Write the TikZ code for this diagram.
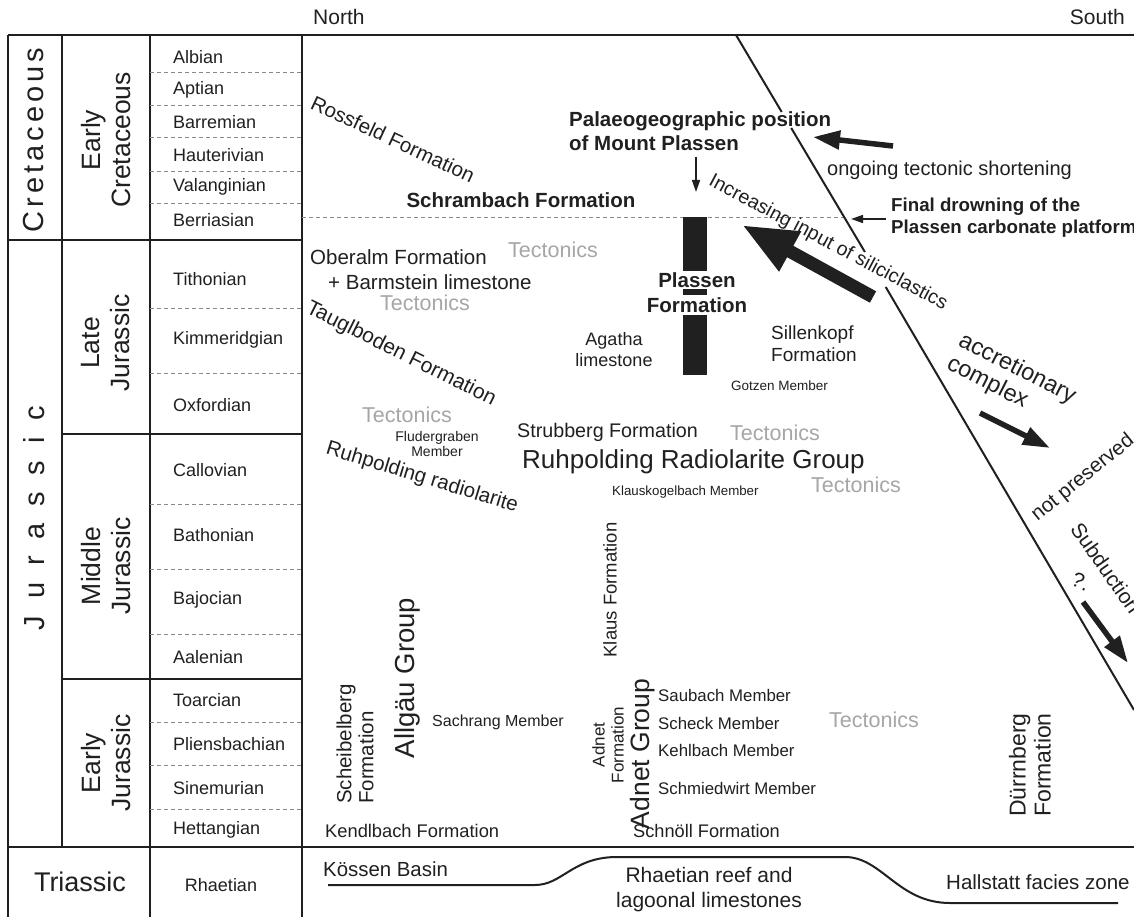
\documentclass[tikz,border=0pt]{standalone}
\usepackage{fontspec}
\setmainfont{Liberation Sans}
\usetikzlibrary{arrows.meta}
\definecolor{ink}{HTML}{202020}
\definecolor{tect}{HTML}{A6A6A6}
\definecolor{dsh}{HTML}{8A8A8A}
\newcommand\fsz[2]{\fontsize{#1}{#2}\selectfont}
\tikzset{
  lab/.style={inner sep=0pt,text=ink},
  stg/.style={lab,anchor=west,font=\fsz{18}{21}},
  tecto/.style={inner sep=0pt,text=tect,font=\fsz{21.5}{25}},
  rule/.style={draw=ink,line width=2pt},
  stagedash/.style={draw=dsh,line width=1pt,dash pattern=on 4pt off 3pt},
  thinarrow/.style={draw=ink,line width=1.5pt,-{Triangle[length=12pt,width=8pt]}},
  midarrow/.style={draw=ink,line width=5.5pt,-{Triangle[length=27pt,width=18pt]}},
  bigarrow/.style={draw=ink,line width=13pt,-{Triangle[length=55pt,width=42pt]}},
}
\begin{document}
\begin{tikzpicture}[x=1pt,y=-1pt]
\useasboundingbox (0,0) rectangle (1134,917);
\fill[white] (0,0) rectangle (1134,917);
% ---------- table frame ----------
\draw[rule,line width=2.5pt] (8,35) -- (1134,35);
\draw[rule] (8,35) -- (8,917);
\draw[rule] (62,35) -- (62,847);
\draw[rule] (150,35) -- (150,917);
\draw[rule] (302,35) -- (302,917);
\draw[rule] (8,240) -- (302,240);
\draw[rule] (62,434) -- (302,434);
\draw[rule] (62,679) -- (302,679);
\draw[rule] (8,847) -- (1134,847);
\foreach \y in {73,106,138,172,204,308,373,504,569,634,722,765,809}
  \draw[stagedash] (150,\y) -- (302,\y);
\draw[stagedash] (302,218) -- (843,218);
% ---------- periods / epochs ----------
\node[lab,rotate=90,font=\fsz{29}{34}\addfontfeature{LetterSpace=14}] (cret) at (34,140) {Cretaceous};
\node[lab,rotate=90,font=\fsz{29}{34}\addfontfeature{LetterSpace=58}] (jur) at (34,518) {Jurassic};
\node[lab,font=\fsz{27}{32}] (trias) at (80,882) {Triassic};
\node[lab,rotate=90,align=center,font=\fsz{26.5}{30}] (ecret) at (106,140) {Early\\Cretaceous};
\node[lab,rotate=90,align=center,font=\fsz{26.5}{30}] (ljur) at (106,343) {Late\\Jurassic};
\node[lab,rotate=90,align=center,font=\fsz{26.5}{30}] (mjur) at (106,566) {Middle\\Jurassic};
\node[lab,rotate=90,align=center,font=\fsz{26.5}{30}] (ejur) at (106,763) {Early\\Jurassic};
% ---------- stages ----------
\foreach \nm/\y in {Albian/57,Aptian/90,Barremian/122,Hauterivian/155,Valanginian/187,Berriasian/220,
  Tithonian/279,Kimmeridgian/340,Oxfordian/405,Callovian/470,Bathonian/535,Bajocian/600,Aalenian/657,
  Toarcian/700,Pliensbachian/744,Sinemurian/788,Hettangian/830}
  \node[stg] (st-\nm) at (173,\y) {\nm};
\node[lab,font=\fsz{18}{21}] (st-Rhaetian) at (221,885) {Rhaetian};
% ---------- headings ----------
\node[lab,anchor=west,font=\fsz{21}{25}] (north) at (313,17) {North};
\node[lab,anchor=east,font=\fsz{21}{25}] (south) at (1125,17) {South};
% ---------- diagonal line ----------
\draw[draw=ink,line width=2pt] (736,35) -- (781.7,112);
\draw[draw=ink,line width=2pt] (791.2,128) -- (864.9,252);
\draw[draw=ink,line width=2pt] (885.7,287) -- (1134,710);
% ---------- Plassen bar ----------
\fill[ink] (683,217) rectangle (707,375);
\node[lab,fill=white,inner ysep=1pt,font=\bfseries\fsz{20.5}{24}] (plas1) at (697,280) {Plassen};
\node[lab,fill=white,inner ysep=2pt,font=\bfseries\fsz{20.5}{24}] (plas2) at (697,305) {Formation};
% ---------- upper chart texts ----------
\node[lab,rotate=-25,font=\fsz{20.5}{24}] (ross) at (393,139) {Rossfeld Formation};
\node[lab,font=\bfseries\fsz{20.5}{24}] (schram) at (521,200) {Schrambach Formation};
\node[lab,anchor=north west,align=left,font=\bfseries\fsz{20.5}{24}] (palaeo) at (569,111) {Palaeogeographic position\\of Mount Plassen};
\node[lab,anchor=west,font=\fsz{20}{24}] (ongoing) at (827,170) {ongoing tectonic shortening};
\node[lab,anchor=north west,align=left,font=\bfseries\fsz{18.7}{22}] (drown) at (891,198) {Final drowning of the\\Plassen carbonate platform};
\node[lab,rotate=-28,font=\fsz{19.6}{23}] (incr) at (828,243) {Increasing input of siliciclastics};
\node[lab,anchor=west,font=\fsz{20.5}{24}] (oberalm) at (310,257) {Oberalm Formation};
\node[lab,anchor=west,font=\fsz{20.5}{24}] (barm) at (328,282) {+ Barmstein limestone};
\node[tecto] (tec1) at (553,250) {Tectonics};
\node[tecto] (tec2) at (425,303) {Tectonics};
\node[lab,rotate=-26.5,font=\fsz{21}{24}] (taugl) at (401,354) {Tauglboden Formation};
\node[lab,align=center,font=\fsz{18}{21}] (agatha) at (614,350) {Agatha\\limestone};
\node[lab,anchor=west,align=left,font=\fsz{19}{22}] (sillen) at (771,344) {Sillenkopf\\Formation};
\node[lab,anchor=west,font=\fsz{13.5}{16}] (gotzen) at (731,386) {Gotzen Member};
\node[lab,rotate=-27,anchor=north west,align=left,font=\fsz{23.5}{26}] (accr) at (965,330) {accretionary\\complex};
% ---------- middle chart texts ----------
\node[tecto] (tec3) at (407,415) {Tectonics};
\node[lab,align=center,font=\fsz{14}{15}] (fluder) at (437,444) {Fludergraben\\Member};
\node[lab,rotate=-17,font=\fsz{20.5}{24}] (ruhrad) at (422,478) {Ruhpolding radiolarite};
\node[lab,anchor=west,font=\fsz{19.7}{23}] (strub) at (517,432) {Strubberg Formation};
\node[tecto] (tec4) at (775,433) {Tectonics};
\node[lab,anchor=west,font=\fsz{26}{30}] (rrg) at (522,462) {Ruhpolding Radiolarite Group};
\node[tecto] (tec5) at (856,485) {Tectonics};
\node[lab,anchor=west,font=\fsz{13.3}{16}] (klausk) at (612,492) {Klauskogelbach Member};
\node[lab,rotate=39,font=\fsz{20.5}{24}] (notpres) at (1083,478) {not preserved};
\node[lab,rotate=-55,font=\fsz{21}{24}] (subd) at (1106,568) {Subduction};
\node[lab,rotate=-25,font=\fsz{21}{24}] (quest) at (1081,582) {?.};
\node[lab,rotate=90,font=\fsz{18.5}{22}] (klausf) at (610,590) {Klaus Formation};
% ---------- lower chart texts ----------
\node[lab,rotate=90,font=\fsz{27.5}{32}] (allgau) at (407,678) {Allgäu Group};
\node[lab,rotate=90,align=left,font=\fsz{20.5}{22}] (scheib) at (355,744) {Scheibelberg\\Formation};
\node[lab,anchor=west,font=\fsz{16}{19}] (sachr) at (432,722) {Sachrang Member};
\node[lab,anchor=west,font=\fsz{18.3}{22}] (kendl) at (325,831) {Kendlbach Formation};
\node[lab,rotate=90,align=center,font=\fsz{17}{19}] (adnetf) at (608,745) {Adnet\\Formation};
\node[lab,rotate=90,font=\fsz{26.5}{30}] (adnetg) at (643,754) {Adnet Group};
\node[lab,anchor=west,font=\fsz{16.8}{20}] (saub) at (658,695) {Saubach Member};
\node[lab,anchor=west,font=\fsz{16.8}{20}] (scheck) at (658,723) {Scheck Member};
\node[lab,anchor=west,font=\fsz{16.8}{20}] (kehl) at (658,750) {Kehlbach Member};
\node[lab,anchor=west,font=\fsz{16.8}{20}] (schmied) at (658,788) {Schmiedwirt Member};
\node[lab,anchor=west,font=\fsz{18.2}{22}] (schnoll) at (633,831) {Schnöll Formation};
\node[tecto] (tec6) at (874,720) {Tectonics};
\node[lab,rotate=90,align=left,font=\fsz{23}{25}] (durrn) at (1030,765) {Dürrnberg\\Formation};
% ---------- Triassic row ----------
\node[lab,anchor=west,font=\fsz{20.4}{24}] (kossen) at (323,869) {Kössen Basin};
\node[lab,align=center,font=\fsz{21}{25}] (reef) at (709,890) {Rhaetian reef and\\lagoonal limestones};
\node[lab,anchor=west,font=\fsz{20.5}{24}] (hall) at (946,882) {Hallstatt facies zone};
\draw[draw=ink,line width=2pt] (328,885) -- (535,885)
  .. controls (562,885) and (572,858) .. (615,857) -- (845,857)
  .. controls (882,857) and (898,903) .. (950,903) -- (1118,903);
% ---------- arrows ----------
\coordinate (pgT) at (696,157); \coordinate (pgH) at (696,192);
\draw[thinarrow] (pgT) -- (pgH);
\coordinate (fdT) at (886,219); \coordinate (fdH) at (851,219);
\draw[thinarrow] (fdT) -- (fdH);
\coordinate (shT) at (893,146); \coordinate (shH) at (813,137);
\draw[midarrow] (shT) -- (shH);
\coordinate (inT) at (873,297); \coordinate (inH) at (742,225);
\draw[bigarrow] (inT) -- (inH);
\coordinate (acT) at (980,413); \coordinate (acH) at (1050,448);
\draw[midarrow] (acT) -- (acH);
\coordinate (sbT) at (1083,602); \coordinate (sbH) at (1128,663);
\draw[midarrow] (sbT) -- (sbH);
\end{tikzpicture}
\end{document}
